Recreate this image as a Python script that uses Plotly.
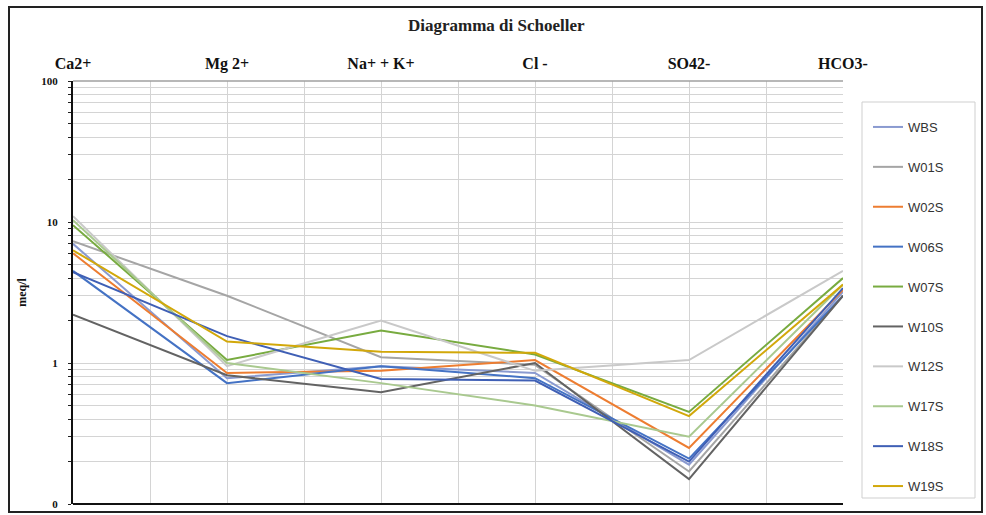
import plotly.graph_objects as go

# Schoeller diagram: ion concentrations (meq/l) for each well
ions = ["Ca2+", "Mg 2+", "Na+ + K+", "Cl -", "SO42-", "HCO3-"]

WBS = [7.0, 0.78, 0.95, 0.85, 0.19, 3.2]
W01S = [7.3, 3.0, 1.1, 0.97, 0.17, 3.0]
W02S = [6.0, 0.85, 0.88, 1.05, 0.25, 3.3]
W06S = [4.5, 0.72, 0.95, 0.78, 0.21, 3.0]
W07S = [9.5, 1.05, 1.7, 1.15, 0.45, 4.0]
W10S = [2.2, 0.82, 0.62, 1.0, 0.15, 3.0]
W12S = [11.0, 0.95, 2.0, 0.88, 1.05, 4.5]
W17S = [10.3, 1.0, 0.72, 0.5, 0.3, 3.6]
W18S = [4.4, 1.55, 0.77, 0.75, 0.2, 3.4]
W19S = [6.3, 1.42, 1.2, 1.18, 0.42, 3.6]

wells = [
    ("WBS", WBS, "#8a9ad0"),
    ("W01S", W01S, "#a5a5a5"),
    ("W02S", W02S, "#ed7d31"),
    ("W06S", W06S, "#4472c4"),
    ("W07S", W07S, "#78ab40"),
    ("W10S", W10S, "#636363"),
    ("W12S", W12S, "#c9c9c9"),
    ("W17S", W17S, "#a9c98f"),
    ("W18S", W18S, "#3f5fb5"),
    ("W19S", W19S, "#d2a80a"),
]

W, H = 986, 515
ML, MR, MT, MB = 73, 143, 81, 11
PW, PH = W - ML - MR, H - MT - MB


def px_x(p):
    return (p - ML) / PW


def px_y(p):
    return (H - MB - p) / PH


fig = go.Figure()
xpos = list(range(len(ions)))
for name, vals, col in wells:
    fig.add_trace(go.Scatter(
        x=xpos, y=vals, mode="lines", name=name,
        line=dict(color=col, width=2),
        legendgroup=name,
    ))

# log axis ticks: decades labelled, intermediate values as minor grid
yticks, ytext = [], []
for dec in [0.1, 1, 10]:
    for m in range(1, 10):
        v = round(m * dec, 4)
        yticks.append(v)
        ytext.append(("<b>0</b>" if dec == 0.1 else f"<b>{int(v)}</b>") if m == 1 else "")
yticks.append(100)
ytext.append("<b>100</b>")

xt = [i * 0.5 for i in range(11)]
xl = [f"<b>{ions[int(v)]}</b>" if v == int(v) else "" for v in xt]

serif = "Liberation Serif"

fig.update_layout(
    width=W, height=H,
    margin=dict(l=ML, r=MR, t=MT, b=MB, autoexpand=False),
    paper_bgcolor="white", plot_bgcolor="white",
    showlegend=True,
    legend=dict(
        x=px_x(868), y=px_y(112), xanchor="left", yanchor="top",
        font=dict(family="Liberation Sans", size=13, color="#333333"),
        tracegroupgap=20, bgcolor="rgba(0,0,0,0)", borderwidth=0,
        itemwidth=30, maxheight=500,
    ),
    xaxis=dict(
        range=[0, 5], side="top", tickvals=xt, ticktext=xl,
        showgrid=True, gridcolor="#d4d4d4", gridwidth=1,
        zeroline=False, showline=False, ticks="",
        tickfont=dict(family=serif, size=16, color="#111111"),
        ticklabelstandoff=8, automargin=False,
    ),
    yaxis=dict(
        type="log", range=[-1, 2],
        tickvals=yticks, ticktext=ytext,
        showgrid=True, gridcolor="#d4d4d4", gridwidth=1,
        ticks="outside", ticklen=3, tickcolor="#222222",
        showline=True, linecolor="#111111", linewidth=2,
        tickfont=dict(family=serif, size=11, color="#111111"),
        ticklabelstandoff=8, automargin=False,
        title=dict(text="<b>meq/l</b>", font=dict(family=serif, size=12, color="#111111"), standoff=12),
        zeroline=False,
    ),
    font=dict(family=serif),
    shapes=[
        # bottom axis line
        dict(type="line", xref="paper", yref="paper", x0=0, x1=1, y0=0, y1=0,
             line=dict(color="#111111", width=2)),
        # top edge of plot area
        dict(type="line", xref="paper", yref="paper", x0=0, x1=1, y0=1, y1=1,
             line=dict(color="#a0a0a0", width=1.5)),
        # legend box
        dict(type="rect", xref="paper", yref="paper",
             x0=px_x(862), x1=px_x(975), y0=px_y(498), y1=px_y(102),
             line=dict(color="#cfcfcf", width=1)),
        # outer frame
        dict(type="rect", xref="paper", yref="paper",
             x0=px_x(9), x1=px_x(982), y0=px_y(512), y1=px_y(7),
             line=dict(color="#222222", width=2)),
    ],
    annotations=[
        dict(text="<b>Diagramma di Schoeller</b>", xref="paper", yref="paper",
             x=px_x(497), y=px_y(26), xanchor="center", yanchor="middle",
             showarrow=False,
             font=dict(family=serif, size=17, color="#222222")),
    ],
)

fig.write_html("out.html")
